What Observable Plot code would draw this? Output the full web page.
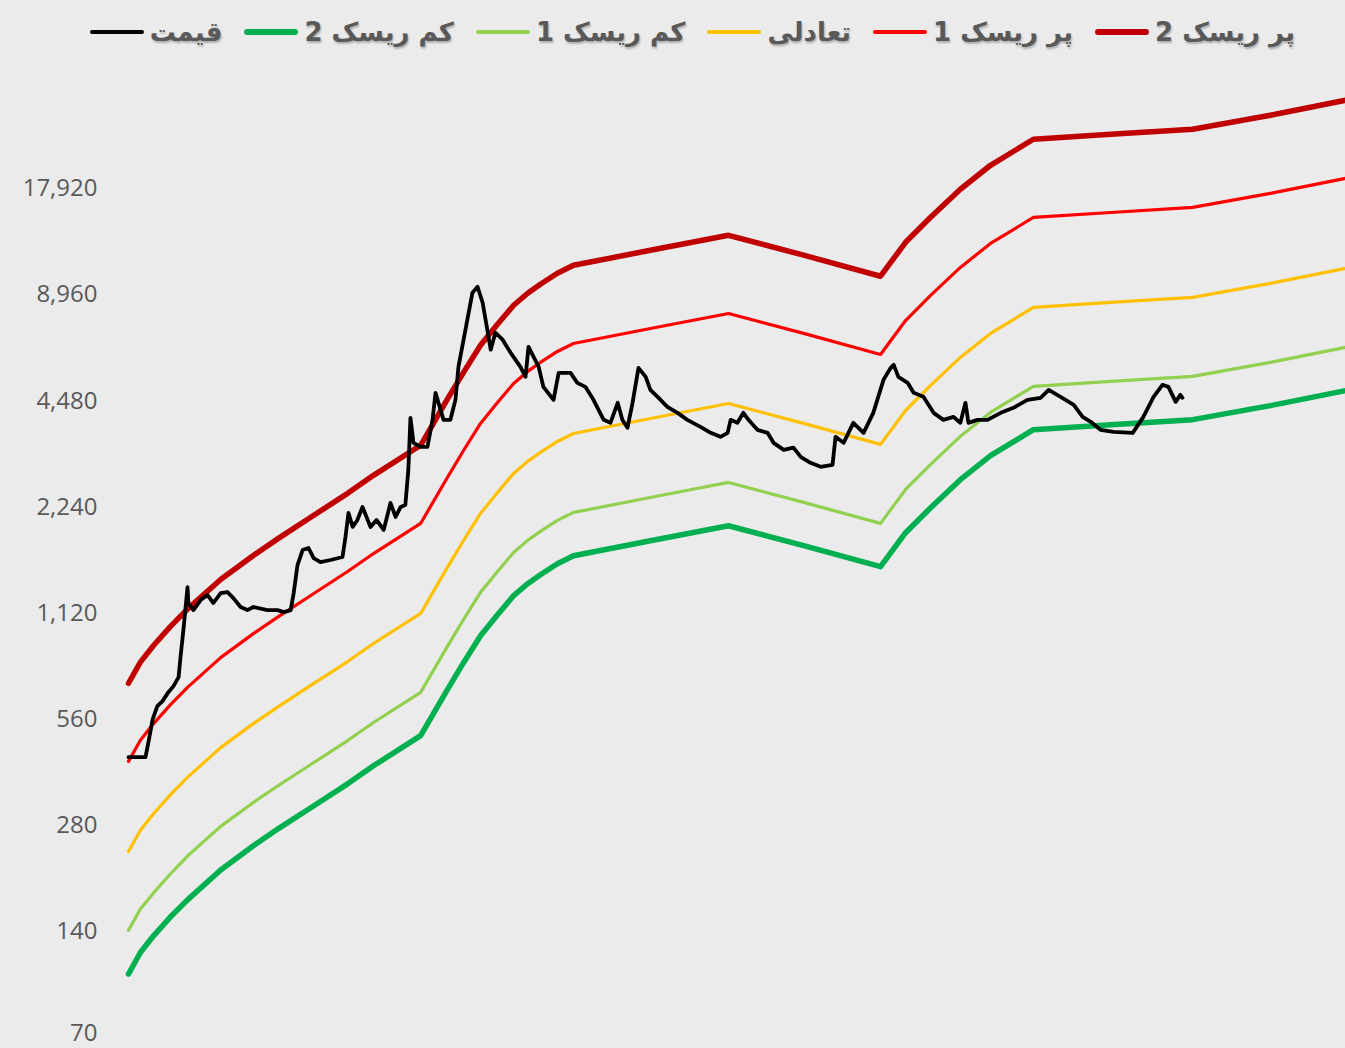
<!DOCTYPE html>
<html><head><meta charset="utf-8">
<script src="https://cdn.jsdelivr.net/npm/d3@7"></script>
<script src="https://cdn.jsdelivr.net/npm/@observablehq/plot@0.6"></script>
<style>
html,body{margin:0;padding:0;background:#ebebeb;width:1345px;height:1048px;overflow:hidden;}
#legend{position:absolute;top:17px;right:50px;display:flex;direction:rtl;align-items:center;gap:22px;font-family:"DejaVu Sans";font-weight:bold;font-size:26px;color:#595959;text-shadow:1px 2px 2px rgba(0,0,0,0.25);}
.item{display:flex;align-items:center;gap:6px;white-space:nowrap;}
.sw{width:54px;border-radius:3px;}
#chart{position:absolute;top:70px;left:0;}
</style></head><body>
<div id="legend"></div><div id="chart"></div>
<script>
// Series names (legend order, right to left)
const seriesNames = ["پر ریسک 2", "پر ریسک 1", "تعادلی", "کم ریسک 1", "کم ریسک 2", "قیمت"];
const seriesColors = ["#c00000", "#ff0000", "#ffc000", "#92d050", "#00b050", "#000000"];
const seriesWidths = [5.5, 3.2, 3.2, 3.2, 5.5, 3.8];

// Band knots (day index)
const bandDays = [0, 28, 59, 99, 139, 217, 294, 353, 422, 516, 577, 688, 751, 789, 829, 869, 907, 940, 970, 1010, 1048, 1229, 1413, 1590, 1771, 1830, 1889, 1959, 2030, 2131, 2313, 2506, 2689, 2866];
const highRisk2 = [708, 813, 906, 1027, 1149, 1395, 1632, 1824, 2067, 2448, 2754, 3351, 4527, 5397, 6441, 7389, 8364, 9048, 9594, 10308, 10860, 11976, 13209, 11598, 10110, 12618, 14862, 17847, 20871, 24738, 25554, 26415, 28944, 31923];
const highRisk1 = [425, 488, 544, 616, 689, 837, 979, 1094, 1240, 1469, 1652, 2011, 2716, 3238, 3865, 4433, 5018, 5429, 5756, 6185, 6516, 7186, 7925, 6959, 6066, 7571, 8917, 10708, 12523, 14843, 15332, 15849, 17366, 19154];
const balanced  = [236, 271, 302, 342, 383, 465, 544, 608, 689, 816, 918, 1117, 1509, 1799, 2147, 2463, 2788, 3016, 3198, 3436, 3620, 3992, 4403, 3866, 3370, 4206, 4954, 5949, 6957, 8246, 8518, 8805, 9648, 10641];
const lowRisk1  = [141, 162, 180, 204, 229, 278, 325, 363, 411, 487, 548, 667, 901, 1074, 1282, 1470, 1664, 1801, 1909, 2051, 2161, 2383, 2629, 2308, 2012, 2511, 2958, 3552, 4153, 4923, 5085, 5257, 5760, 6353];
const lowRisk2  = [106, 122, 136, 154, 172, 209, 245, 274, 310, 367, 413, 503, 679, 810, 966, 1108, 1255, 1357, 1439, 1546, 1629, 1796, 1981, 1740, 1517, 1893, 2229, 2677, 3131, 3711, 3833, 3962, 4342, 4788];

// Price series
const priceDays = [0, 40, 47, 57, 68, 80, 94, 106, 118, 122, 130, 139, 141, 153, 170, 186, 200, 217, 233, 247, 264, 280, 294, 327, 351, 366, 382, 389, 398, 410, 424, 436, 452, 476, 504, 511, 518, 528, 539, 551, 570, 584, 601, 617, 629, 641, 652, 659, 664, 671, 688, 704, 716, 723, 742, 758, 770, 777, 798, 810, 822, 834, 845, 853, 864, 881, 900, 923, 935, 942, 954, 966, 977, 1001, 1013, 1041, 1057, 1076, 1095, 1119, 1135, 1152, 1163, 1175, 1187, 1201, 1218, 1229, 1246, 1269, 1293, 1316, 1347, 1371, 1394, 1411, 1418, 1434, 1448, 1460, 1481, 1505, 1519, 1543, 1566, 1583, 1606, 1630, 1658, 1665, 1684, 1707, 1731, 1754, 1778, 1795, 1802, 1813, 1835, 1849, 1872, 1896, 1919, 1943, 1959, 1971, 1978, 1999, 2023, 2054, 2084, 2117, 2148, 2167, 2195, 2226, 2247, 2266, 2289, 2320, 2365, 2390, 2414, 2435, 2449, 2466, 2477, 2482];
const priceValues = [437, 437, 482, 560, 610, 630, 668, 695, 737, 829, 1022, 1327, 1196, 1142, 1219, 1260, 1196, 1276, 1285, 1235, 1165, 1142, 1165, 1142, 1142, 1127, 1142, 1276, 1532, 1690, 1713, 1604, 1563, 1584, 1615, 1841, 2154, 1966, 2057, 2240, 1966, 2057, 1928, 2299, 2098, 2240, 2270, 2852, 4009, 3405, 3317, 3317, 3957, 4720, 3957, 3957, 4509, 5594, 7610, 9078, 9441, 8503, 7129, 6257, 6990, 6678, 6129, 5594, 5241, 6375, 5972, 5594, 4909, 4509, 5379, 5379, 5039, 4909, 4509, 3957, 3880, 4422, 3957, 3756, 4422, 5558, 5241, 4814, 4598, 4308, 4142, 3957, 3780, 3635, 3541, 3635, 3957, 3880, 4142, 3957, 3707, 3635, 3405, 3253, 3300, 3107, 2988, 2911, 2950, 3541, 3405, 3880, 3635, 4142, 5139, 5558, 5668, 5241, 5039, 4720, 4598, 4142, 3957, 4035, 3880, 4422, 3880, 3957, 3957, 4142, 4280, 4509, 4568, 4814, 4598, 4364, 4035, 3906, 3707, 3659, 3635, 4035, 4598, 4974, 4909, 4451, 4659, 4569];

// Y axis tick labels
const yTicks = [70, 140, 280, 560, 1120, 2240, 4480, 8960, 17920];

const bandSeries = [highRisk2, highRisk1, balanced, lowRisk1, lowRisk2];
const bandRows = bandSeries.map(vals => bandDays.map((d, i) => ({day: d, value: vals[i]})));
const priceRows = priceDays.map((d, i) => ({day: d, value: priceValues[i]}));

// Legend
const legend = document.getElementById("legend");
seriesNames.forEach((name, i) => {
  const it = document.createElement("div");
  it.className = "item";
  const tx = document.createElement("span");
  tx.textContent = name;
  const sw = document.createElement("span");
  sw.className = "sw";
  sw.style.background = seriesColors[i];
  sw.style.height = (i === 0 || i === 4 ? 6 : 4) + "px";
  it.appendChild(tx);
  it.appendChild(sw);
  legend.appendChild(it);
});

const drawOrder = [4, 3, 2, 1, 0];
const marks = drawOrder.map(k => Plot.line(bandRows[k], {
  x: "day", y: "value", stroke: seriesColors[k], strokeWidth: seriesWidths[k],
  strokeLinejoin: "round", strokeLinecap: "round"
}));
marks.push(Plot.line(priceRows, {
  x: "day", y: "value", stroke: seriesColors[5], strokeWidth: seriesWidths[5],
  strokeLinejoin: "round", strokeLinecap: "round"
}));
const fmt = d3.format(",");
marks.push(Plot.axisY(yTicks.slice(1), {
  tickSize: 0, tickPadding: 31, tickFormat: fmt, label: null,
  fill: "#595959", fontSize: 24
}));
marks.push(Plot.axisY(yTicks.slice(0, 1), {
  tickSize: 0, tickPadding: 31, tickFormat: fmt, label: null,
  fill: "#595959", fontSize: 24, dy: -4
}));

const chart = Plot.plot({
  width: 1345, height: 978,
  marginLeft: 128, marginRight: 0, marginTop: 12, marginBottom: 11,
  x: {domain: [0, 2866], axis: null},
  y: {type: "log", base: 2, domain: [70, 35840]},
  style: {background: "transparent", fontFamily: "'Open Sans'", overflow: "visible"},
  marks
});
document.getElementById("chart").appendChild(chart);
</script>
</body></html>
